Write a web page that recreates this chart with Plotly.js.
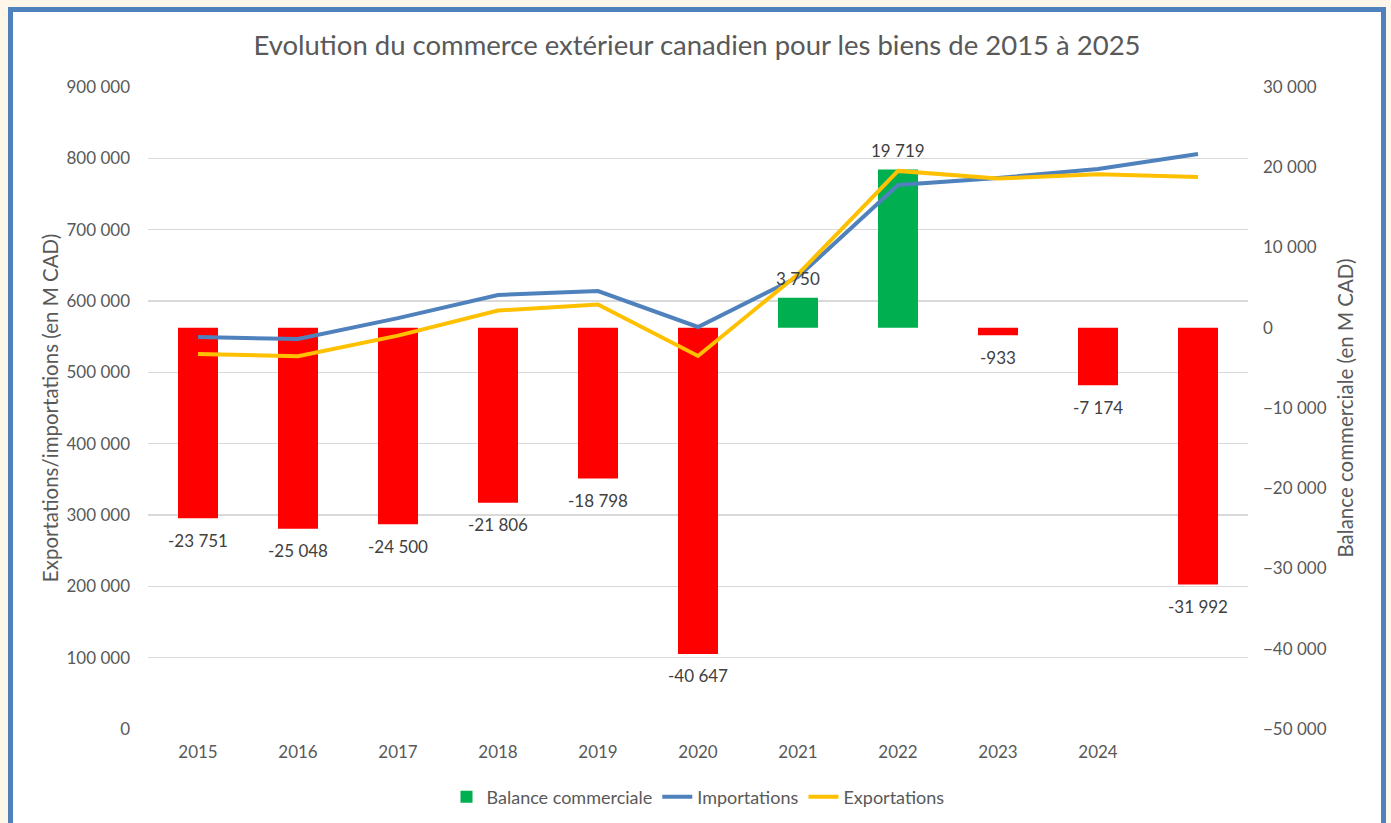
<!DOCTYPE html>
<html>
<head>
<meta charset="utf-8">
<script src="https://cdn.plot.ly/plotly-3.0.1.min.js"></script>
<style>
  html, body { margin: 0; padding: 0; background: #FDF6E9; overflow: hidden; width: 1391px; height: 823px; }
  #frame { position: absolute; left: 8px; top: 7px; width: 1368px; height: 830px; border: 5px solid #4F81BD; background: #ffffff; }
  #chart { width: 1368px; height: 820px; }
</style>
</head>
<body>
<div id="frame"><div id="chart"></div></div>
<script>
const years = ['2015','2016','2017','2018','2019','2020','2021','2022','2023','2024','2025'];
const tickLabels = ['2015','2016','2017','2018','2019','2020','2021','2022','2023','2024',''];
const importations = [549500, 546700, 576000, 608400, 614000, 563600, 633700, 762700, 772500, 785000, 806000];
const exportations = [525700, 522500, 551500, 586600, 595200, 523000, 637500, 782400, 771600, 777800, 774000];
const balance = [-23751, -25048, -24500, -21806, -18798, -40647, 3750, 19719, -933, -7174, -31992];

const posBalance = balance.map(v => v >= 0 ? v : null);
const negBalance = balance.map(v => v < 0 ? v : null);

const FONT = 'Lato, "Open Sans", sans-serif';

function fmt(v) {
  const s = Math.abs(v).toString().replace(/\B(?=(\d{3})+(?!\d))/g, ' ');
  return (v < 0 ? '-' : '') + s;
}

const traces = [
  {
    type: 'bar', x: years, y: negBalance, yaxis: 'y', name: 'Balance commerciale (déficit)',
    marker: {color: '#FF0000'}, showlegend: false, hoverinfo: 'x+y'
  },
  {
    type: 'bar', x: years, y: posBalance, yaxis: 'y', name: 'Balance commerciale',
    marker: {color: '#00B050'}, hoverinfo: 'x+y'
  },
  {
    type: 'scatter', mode: 'lines', x: years, y: importations, yaxis: 'y2', name: 'Importations',
    line: {color: '#4F81BD', width: 4}
  },
  {
    type: 'scatter', mode: 'lines', x: years, y: exportations, yaxis: 'y2', name: 'Exportations',
    line: {color: '#FFC000', width: 4}
  }
];

const annotations = balance.map((v, i) => ({
  x: i, y: v, xref: 'x', yref: 'y',
  text: fmt(v), showarrow: false,
  xanchor: 'center', yanchor: 'middle',
  yshift: v < 0 ? -22 : 19,
  font: {family: FONT, size: 17, color: '#404040'}
}));

const tickFont = {family: FONT, size: 17, color: '#595959'};

const layout = {
  width: 1368, height: 820,
  margin: {l: 135, r: 133, t: 75, b: 103},
  paper_bgcolor: '#ffffff', plot_bgcolor: '#ffffff',
  separators: ', ',
  font: {family: FONT, color: '#595959'},
  title: {
    text: 'Evolution du commerce extérieur canadien pour les biens de 2015 à 2025',
    font: {family: FONT, size: 27.5, color: '#595959'},
    x: 0.5, xanchor: 'center', y: 1 - 33/820, yanchor: 'middle'
  },
  barmode: 'relative',
  bargap: 0.6,
  xaxis: {
    type: 'category', categoryarray: years, range: [-0.5, years.length - 0.5],
    tickvals: years, ticktext: tickLabels,
    showgrid: false, zeroline: false, showline: false, ticks: '',
    tickfont: tickFont, ticklabelstandoff: 11, automargin: false
  },
  yaxis: {
    side: 'right', range: [-50000, 30000], dtick: 10000, tickformat: ',d',
    showgrid: false, zeroline: false, showline: false, ticks: '',
    tickfont: tickFont, ticklabelstandoff: 14, automargin: false,
    title: {text: 'Balance commerciale (en M CAD)', font: {family: FONT, size: 20.5, color: '#595959'}, standoff: 12}
  },
  yaxis2: {
    overlaying: 'y', side: 'left', anchor: 'x',
    range: [0, 900000], dtick: 100000, tickformat: ',d',
    showgrid: true, gridcolor: '#D9D9D9', gridwidth: 1.3, zeroline: false, showline: false, ticks: '',
    tickfont: tickFont, ticklabelstandoff: 17, automargin: false,
    title: {text: 'Exportations/importations (en M CAD)', font: {family: FONT, size: 20.5, color: '#595959'}, standoff: 2}
  },
  annotations: annotations,
  legend: {
    orientation: 'h', x: 0.5, xanchor: 'center', y: -0.106, yanchor: 'middle',
    font: {family: FONT, size: 18, color: '#595959'},
    traceorder: 'normal'
  },
  showlegend: true
};

Plotly.newPlot('chart', traces, layout, {displayModeBar: false, staticPlot: true});
</script>
</body>
</html>
